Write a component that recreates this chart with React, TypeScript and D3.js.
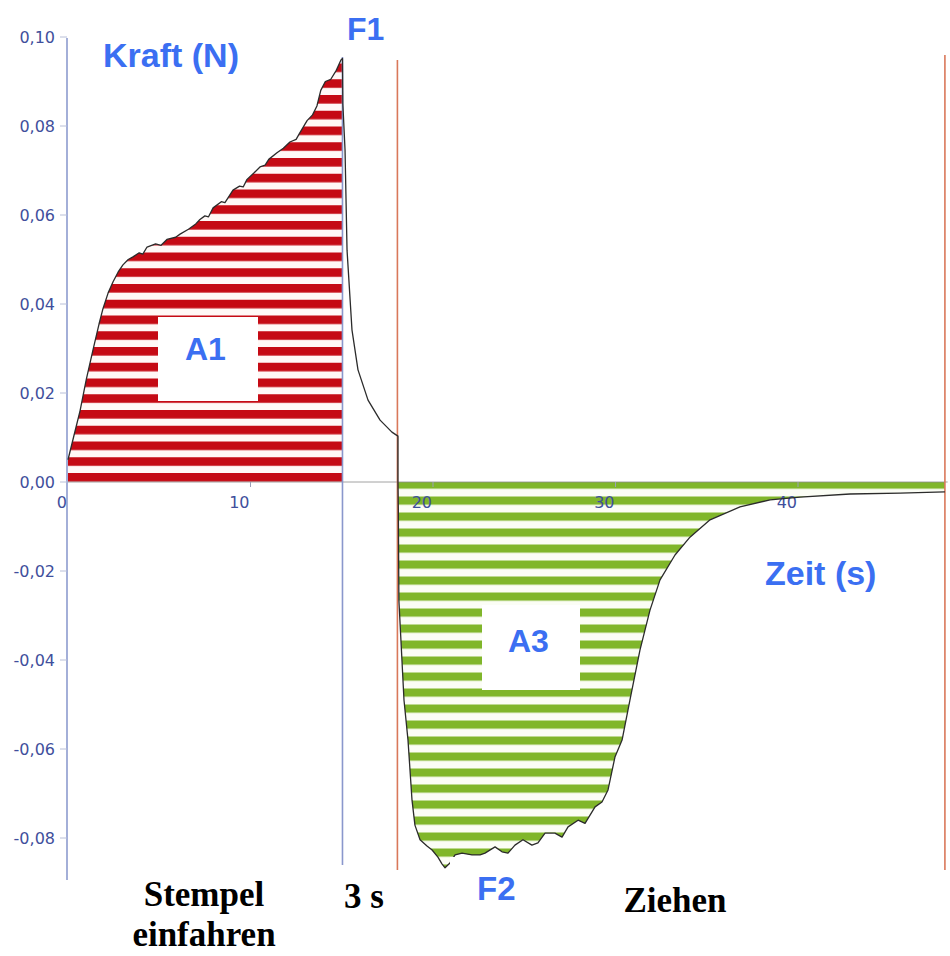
import React from "react";
import * as d3 from "d3";

// Phase 1: plunger moving in (Stempel einfahren) — time (s), force (N)
const riseT = [0.0, 0.3, 0.66, 1.0, 1.37, 1.7, 1.92, 2.2, 2.47, 2.75, 3.01, 3.3, 3.56, 3.9, 4.1, 4.33, 4.8, 5.1, 5.42, 5.9, 6.14, 6.6, 7.0, 7.23, 7.5, 7.7, 7.95, 8.4, 8.6, 9.04, 9.4, 9.6, 9.81, 10.2, 10.52, 10.8, 11.0, 11.45, 11.8, 12.16, 12.5, 12.71, 13.1, 13.4, 13.64, 13.85, 14.1, 14.4, 14.7, 14.95, 15.04];
const riseF = [0.005, 0.01, 0.016, 0.023, 0.0297, 0.0355, 0.039, 0.0425, 0.045, 0.0472, 0.0488, 0.05, 0.0506, 0.0515, 0.0512, 0.0528, 0.0535, 0.0532, 0.0545, 0.055, 0.0557, 0.0568, 0.058, 0.059, 0.0598, 0.0596, 0.0616, 0.063, 0.0628, 0.0656, 0.0665, 0.0663, 0.068, 0.0695, 0.0708, 0.0712, 0.0725, 0.074, 0.075, 0.0764, 0.077, 0.0785, 0.0812, 0.0825, 0.0845, 0.088, 0.09, 0.0905, 0.0925, 0.0948, 0.0952];

// Phase 2: 3 s hold (relaxation)
const holdT = [15.06, 15.18, 15.29, 15.56, 15.89, 16.44, 17.1, 17.75, 18.08];
const holdF = [0.085, 0.0746, 0.0521, 0.0342, 0.0252, 0.0184, 0.0139, 0.0112, 0.0103];

// Phase 3: pulling (Ziehen)
const pullT = [18.08, 18.1, 18.13, 18.41, 18.63, 18.85, 19.01, 19.29, 19.67, 19.95, 20.27, 20.49, 20.66, 20.93, 21.21, 21.59, 22.14, 22.58, 22.85, 23.4, 23.78, 24.11, 24.49, 24.93, 25.42, 25.75, 26.14, 26.68, 27.07, 27.4, 27.95, 28.33, 28.88, 29.26, 29.59, 29.97, 30.36, 30.79, 31.34, 31.89, 32.44, 33.26, 34.08, 35.18, 36.82, 38.47, 40.11, 42.85, 45.59, 48.05];
const pullF = [0.0, -0.006, -0.0265, -0.049, -0.058, -0.0715, -0.0771, -0.0804, -0.0818, -0.0827, -0.0843, -0.0858, -0.0867, -0.0856, -0.0838, -0.0834, -0.0838, -0.0838, -0.0834, -0.082, -0.0831, -0.0834, -0.0816, -0.0804, -0.0816, -0.0811, -0.0789, -0.0789, -0.0798, -0.0775, -0.076, -0.0767, -0.073, -0.0719, -0.0692, -0.0618, -0.058, -0.049, -0.0378, -0.0288, -0.022, -0.0164, -0.0124, -0.0085, -0.0056, -0.004, -0.0034, -0.0027, -0.0025, -0.0022];

const yTicks = [0.1, 0.08, 0.06, 0.04, 0.02, 0.0, -0.02, -0.04, -0.06, -0.08];
const xTicks = [0, 10, 20, 30, 40];
const phaseMarks = [15.04, 18.05, 48.05]; // vertical markers (s)
const phaseColors = ["#8a97cc", "#d9785a", "#d9785a"];

type P = { t: number; f: number };
const zip = (ts: number[], fs: number[]): P[] => ts.map((t, i) => ({ t, f: fs[i] }));

export default function App() {
  const W = 950, H = 956;
  const x = d3.scaleLinear().domain([0, 40]).range([68, 798]);
  const y = d3.scaleLinear().domain([-0.08, 0.1]).range([838, 37]);

  const rise = zip(riseT, riseF);
  const hold = zip(holdT, holdF);
  const pull = zip(pullT, pullF);
  const all = [...rise, ...hold, ...pull];

  const area = d3
    .area<P>()
    .x((d) => x(d.t))
    .y0(y(0))
    .y1((d) => y(d.f));
  const line = d3
    .line<P>()
    .x((d) => x(d.t))
    .y((d) => y(d.f));

  const blue = "#3b6ff2";
  const tickCol = "#3f4f9c";
  const sans = "'Liberation Sans', Arial, sans-serif";
  const serif = "'Liberation Serif', 'Times New Roman', serif";
  const y0 = y(0);

  return (
    <svg
      width={W}
      height={H}
      style={{ position: "absolute", left: 0, top: 0, background: "#fff" }}
    >
      <defs>
        <pattern id="redStripes" patternUnits="userSpaceOnUse" x={0} y={y0 - 9} width={20} height={15.75}>
          <rect x={0} y={0} width={20} height={15.75} fill="#fff8f6" />
          <rect x={0} y={0} width={20} height={8.6} fill="#c50a14" />
        </pattern>
        <pattern id="greenStripes" patternUnits="userSpaceOnUse" x={0} y={y0 - 1.5} width={20} height={16}>
          <rect x={0} y={0} width={20} height={16} fill="#fbfdf5" />
          <rect x={0} y={0} width={20} height={8.2} fill="#80b62a" />
        </pattern>
      </defs>
      <rect x={0} y={0} width={W} height={H} fill="#fff" />

      {/* fills */}
      <path d={area(rise) || ""} fill="url(#redStripes)" />
      <path d={area(pull) || ""} fill="url(#greenStripes)" />

      {/* zero line */}
      <line x1={x(0)} x2={x(48.2)} y1={y0} y2={y0} stroke="#8a8a8a" strokeWidth={0.8} />

      {/* phase markers */}
      {phaseMarks.map((t, i) => (
        <line
          key={i}
          x1={x(t)}
          x2={x(t)}
          y1={i === 0 ? 57 : i === 1 ? 60 : 55}
          y2={i === 0 ? 865 : 870}
          stroke={phaseColors[i]}
          strokeWidth={1.6}
        />
      ))}

      {/* y axis */}
      <line x1={67} x2={67} y1={y(0.1) + 1} y2={880} stroke="#8d9bcf" strokeWidth={1.6} />
      {yTicks.map((v) => (
        <g key={v}>
          <line x1={60} x2={67} y1={y(v)} y2={y(v)} stroke="#b8bfd8" strokeWidth={1} />
          <text
            x={55}
            y={y(v)}
            dy="0.36em"
            textAnchor="end"
            fontFamily="'DejaVu Sans', Verdana, sans-serif"
            fontSize={16}
            fill={tickCol}
          >
            {(v < 0 ? "-" : "") + Math.abs(v).toFixed(2).replace(".", ",")}
          </text>
        </g>
      ))}

      {/* x ticks */}
      {xTicks.map((v) => (
        <g key={v}>
          {v > 0 && <line x1={x(v)} x2={x(v)} y1={y0} y2={y0 + 5} stroke="#9aa0b8" strokeWidth={1} />}
          <text
            x={x(v) - 1}
            y={508}
            textAnchor="end"
            fontFamily="'DejaVu Sans', Verdana, sans-serif"
            fontSize={16}
            fill={tickCol}
          >
            {v}
          </text>
        </g>
      ))}

      {/* curve */}
      <path d={line(all) || ""} fill="none" stroke="#2b2b2b" strokeWidth={1.3} strokeLinejoin="round" />

      {/* white label boxes */}
      <rect x={158} y={317} width={100} height={84} fill="#fff" />
      <rect x={482} y={605} width={98} height={85} fill="#fff" />
      <rect x={450} y={857} width={110} height={60} fill="#fff" />

      {/* blue labels */}
      <g fontFamily={sans} fontWeight="bold" fill={blue}>
        <text x={103} y={67} fontSize={34}>Kraft (N)</text>
        <text x={347} y={40} fontSize={32}>F1</text>
        <text x={185} y={360} fontSize={32}>A1</text>
        <text x={508} y={652} fontSize={32}>A3</text>
        <text x={477} y={900} fontSize={33}>F2</text>
        <text x={765} y={585} fontSize={34}>Zeit (s)</text>
      </g>

      {/* black phase labels */}
      <g fontFamily={serif} fontWeight="bold" fill="#000" fontSize={35} textAnchor="middle">
        <text x={204} y={906}>Stempel</text>
        <text x={204} y={946}>einfahren</text>
        <text x={364} y={908}>3 s</text>
        <text x={675} y={912}>Ziehen</text>
      </g>
    </svg>
  );
}
